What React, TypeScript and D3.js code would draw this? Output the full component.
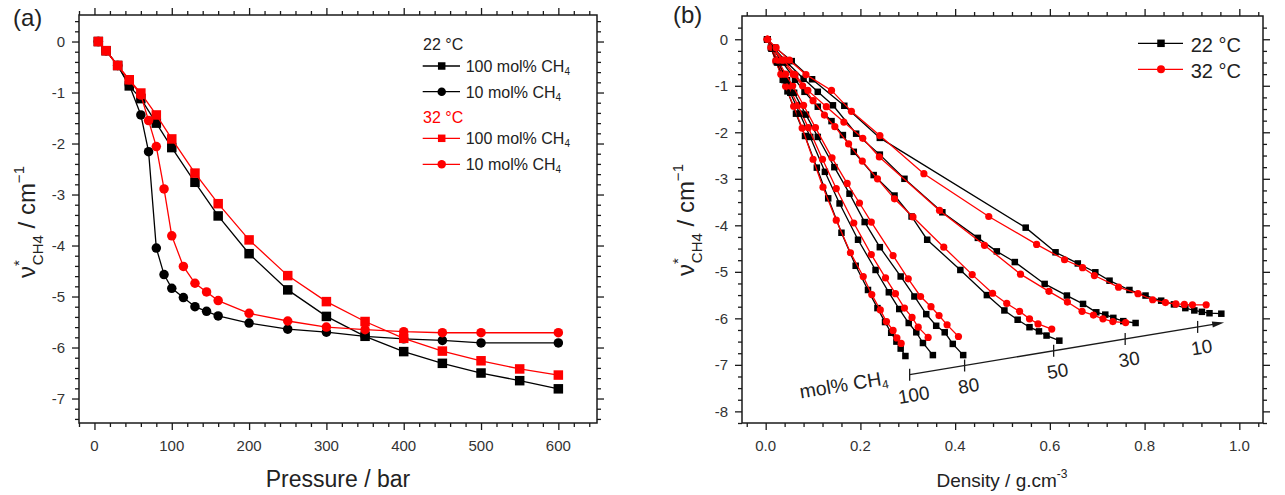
import React, { useEffect, useRef } from 'react';
import * as d3 from 'd3';

// ---------- panel (a): shift vs pressure ----------
const pressure100 = [5, 15, 30, 45, 60, 80, 100, 130, 160, 200, 250, 300, 350, 400, 450, 500, 550, 600];
const nu22_100 = [0, -0.18, -0.47, -0.87, -1.12, -1.6, -2.08, -2.76, -3.42, -4.16, -4.87, -5.39, -5.78, -6.08, -6.31, -6.5, -6.65, -6.81];
const nu32_100 = [0, -0.18, -0.47, -0.75, -1.01, -1.44, -1.91, -2.58, -3.18, -3.89, -4.59, -5.1, -5.49, -5.82, -6.07, -6.26, -6.42, -6.54];

const pressure10 = [5, 15, 30, 45, 60, 70, 80, 90, 100, 115, 130, 145, 160, 200, 250, 300, 350, 400, 450, 500, 600];
const nu22_10 = [0, -0.18, -0.47, -0.85, -1.44, -2.16, -4.05, -4.57, -4.84, -5.02, -5.2, -5.29, -5.38, -5.52, -5.64, -5.7, -5.78, -5.83, -5.86, -5.91, -5.91];
const nu32_10 = [0, -0.18, -0.47, -0.75, -1.05, -1.55, -2.06, -2.89, -3.81, -4.41, -4.74, -4.91, -5.08, -5.33, -5.48, -5.6, -5.65, -5.69, -5.71, -5.71, -5.71];

const pressureTicks = [0, 100, 200, 300, 400, 500, 600];
const nuTicksA = [0, -1, -2, -3, -4, -5, -6, -7];

// ---------- panel (b): shift vs density, [density, shift] ----------
const b22_100 = [[0.004, 0], [0.011, -0.18], [0.022, -0.47], [0.036, -0.87], [0.046, -1.12], [0.064, -1.6], [0.083, -2.08], [0.108, -2.76], [0.132, -3.42], [0.16, -4.16], [0.19, -4.87], [0.216, -5.39], [0.236, -5.78], [0.252, -6.08], [0.265, -6.31], [0.276, -6.5], [0.285, -6.65], [0.295, -6.81]];
const b32_100 = [[0.004, 0], [0.011, -0.18], [0.021, -0.47], [0.032, -0.75], [0.042, -1.01], [0.059, -1.44], [0.077, -1.91], [0.1, -2.58], [0.121, -3.18], [0.149, -3.89], [0.179, -4.59], [0.206, -5.1], [0.224, -5.49], [0.242, -5.82], [0.255, -6.07], [0.269, -6.26], [0.277, -6.42], [0.286, -6.54]];
const b22_90 = [[0.004, 0], [0.012, -0.2], [0.024, -0.5], [0.04, -0.88], [0.052, -1.15], [0.072, -1.6], [0.094, -2.1], [0.125, -2.85], [0.156, -3.53], [0.195, -4.31], [0.232, -4.96], [0.26, -5.44], [0.282, -5.8], [0.302, -6.1], [0.318, -6.3], [0.332, -6.53], [0.353, -6.79]];
const b32_90 = [[0.004, 0], [0.012, -0.18], [0.024, -0.45], [0.036, -0.75], [0.048, -1.0], [0.068, -1.42], [0.09, -1.9], [0.12, -2.58], [0.149, -3.21], [0.186, -3.95], [0.223, -4.63], [0.253, -5.13], [0.274, -5.47], [0.293, -5.78], [0.309, -5.98], [0.322, -6.19], [0.343, -6.41]];
const b22_80 = [[0.004, 0], [0.013, -0.2], [0.027, -0.5], [0.045, -0.88], [0.06, -1.15], [0.085, -1.62], [0.11, -2.1], [0.145, -2.75], [0.177, -3.32], [0.209, -3.93], [0.241, -4.47], [0.285, -5.1], [0.314, -5.53], [0.339, -5.91], [0.36, -6.16], [0.378, -6.3], [0.395, -6.55], [0.417, -6.79]];
const b32_80 = [[0.004, 0], [0.012, -0.18], [0.026, -0.45], [0.042, -0.75], [0.057, -1.0], [0.08, -1.42], [0.105, -1.9], [0.14, -2.55], [0.172, -3.1], [0.198, -3.52], [0.223, -3.93], [0.269, -4.65], [0.301, -5.15], [0.327, -5.53], [0.349, -5.75], [0.366, -5.94], [0.383, -6.14], [0.407, -6.39]];
const b22_50 = [[0.003, 0], [0.015, -0.2], [0.036, -0.5], [0.062, -0.87], [0.082, -1.13], [0.11, -1.45], [0.139, -1.76], [0.163, -2.06], [0.186, -2.42], [0.228, -2.92], [0.272, -3.36], [0.308, -3.81], [0.341, -4.31], [0.411, -4.96], [0.467, -5.5], [0.504, -5.83], [0.532, -6.03], [0.557, -6.19], [0.577, -6.28], [0.593, -6.37], [0.62, -6.48]];
const b32_50 = [[0.003, 0], [0.014, -0.18], [0.034, -0.45], [0.058, -0.75], [0.078, -1.0], [0.1, -1.32], [0.124, -1.63], [0.146, -1.88], [0.175, -2.25], [0.204, -2.62], [0.236, -3.0], [0.272, -3.43], [0.311, -3.82], [0.376, -4.47], [0.436, -5.06], [0.479, -5.46], [0.509, -5.68], [0.536, -5.85], [0.557, -6.01], [0.575, -6.12], [0.604, -6.23]];
const b22_30 = [[0.003, 0], [0.018, -0.2], [0.045, -0.5], [0.08, -0.85], [0.11, -1.13], [0.142, -1.42], [0.191, -2.03], [0.241, -2.48], [0.293, -3.0], [0.373, -3.72], [0.448, -4.27], [0.488, -4.56], [0.526, -4.79], [0.589, -5.26], [0.636, -5.51], [0.67, -5.69], [0.698, -5.87], [0.717, -5.92], [0.734, -5.99], [0.755, -6.06], [0.781, -6.1]];
const b32_30 = [[0.003, 0], [0.016, -0.18], [0.038, -0.45], [0.062, -0.76], [0.089, -1.1], [0.128, -1.45], [0.165, -1.78], [0.205, -2.13], [0.24, -2.53], [0.367, -3.68], [0.462, -4.43], [0.538, -5.05], [0.598, -5.42], [0.637, -5.65], [0.668, -5.85], [0.692, -5.93], [0.712, -6.01], [0.733, -6.07], [0.76, -6.09]];
const b22_10 = [[0.004, 0], [0.02, -0.18], [0.055, -0.47], [0.098, -0.86], [0.166, -1.43], [0.241, -2.12], [0.549, -4.05], [0.612, -4.58], [0.659, -4.82], [0.696, -5.01], [0.726, -5.19], [0.768, -5.39], [0.802, -5.51], [0.835, -5.62], [0.862, -5.7], [0.886, -5.78], [0.905, -5.83], [0.921, -5.86], [0.937, -5.89], [0.962, -5.9]];
const b32_10 = [[0.004, 0], [0.022, -0.18], [0.05, -0.45], [0.085, -0.76], [0.139, -1.1], [0.181, -1.55], [0.241, -2.07], [0.334, -2.89], [0.471, -3.81], [0.572, -4.41], [0.631, -4.74], [0.669, -4.91], [0.694, -5.08], [0.745, -5.33], [0.786, -5.47], [0.817, -5.6], [0.844, -5.66], [0.866, -5.69], [0.884, -5.7], [0.901, -5.71], [0.93, -5.71]];

const densityTicks = [0, 0.2, 0.4, 0.6, 0.8, 1.0];
const nuTicksB = [0, -1, -2, -3, -4, -5, -6, -7, -8];

// composition arrow annotation (mol% CH4)
const compLabels = ['100', '80', '50', '30', '10'];
const compTickDensity = [0.304, 0.42, 0.608, 0.759, 0.912];
const arrowStart = [0.304, -7.21];
const arrowEnd = [0.968, -6.09];

const FONT = '"Liberation Sans", Arial, sans-serif';
const RED = '#ff0000';
const BLACK = '#000000';
const AXIS = '#1a1a1a';
const LABEL = '#333333';

type Scale = d3.ScaleLinear<number, number>;

// frame with outward ticks on all four sides
const addFrame = (svg: any, x: Scale, y: Scale, xMajor: number[], xMinor: number[], yMajor: number[], yMinor: number[]) => {
  const [x0, x1] = x.range();
  const [y0, y1] = y.range();
  const sides = [
    { gen: d3.axisBottom, s: x, t: `translate(0,${y1})`, ma: xMajor, mi: xMinor },
    { gen: d3.axisTop, s: x, t: `translate(0,${y0})`, ma: xMajor, mi: xMinor },
    { gen: d3.axisLeft, s: y, t: `translate(${x0},0)`, ma: yMajor, mi: yMinor },
    { gen: d3.axisRight, s: y, t: `translate(${x1},0)`, ma: yMajor, mi: yMinor },
  ];
  sides.forEach(side => {
    [[side.ma, 7], [side.mi, 4]].forEach(([vals, size]: any) => {
      const g = svg.append('g')
        .attr('transform', side.t)
        .call(side.gen(side.s).tickValues(vals).tickSize(size).tickSizeOuter(0).tickFormat(() => ''));
      g.select('.domain').remove();
      g.selectAll('line').attr('stroke', AXIS).attr('stroke-width', 1.3);
      g.selectAll('text').remove();
    });
  });
  svg.append('rect')
    .attr('x', x0).attr('y', y0)
    .attr('width', x1 - x0).attr('height', y1 - y0)
    .attr('fill', 'none').attr('stroke', AXIS).attr('stroke-width', 1.5);
};

const addTickLabels = (svg: any, x: Scale, y: Scale, xTicks: number[], yTicks: number[], xFmt: (v: number) => string) => {
  const [x0] = x.range();
  svg.selectAll(null).data(xTicks).enter().append('text')
    .attr('x', (d: number) => x(d)).attr('y', 451)
    .attr('text-anchor', 'middle')
    .style('font-family', FONT).style('font-size', '15px').style('fill', LABEL)
    .text(xFmt);
  svg.selectAll(null).data(yTicks).enter().append('text')
    .attr('x', x0 - 14).attr('y', (d: number) => y(d))
    .attr('dy', '0.36em')
    .attr('text-anchor', 'end')
    .style('font-family', FONT).style('font-size', '15px').style('fill', LABEL)
    .text((d: number) => String(d));
};

const addYTitle = (svg: any, bx: number, cy: number) => {
  const t = svg.append('text')
    .attr('transform', `translate(${bx},${cy}) rotate(-90)`)
    .attr('text-anchor', 'middle')
    .style('font-family', FONT).style('font-size', '24px').style('fill', '#222');
  t.append('tspan').text('ν');
  t.append('tspan').attr('dy', -11).style('font-size', '15px').text('*');
  t.append('tspan').attr('dx', -5).attr('dy', 19).style('font-size', '15px').text('CH4');
  t.append('tspan').attr('dy', -8).text(' / cm');
  t.append('tspan').attr('dy', -11).style('font-size', '15px').text('−1');
};

const drawSeries = (svg: any, pts: number[][], x: Scale, y: Scale, color: string, shape: string, size: number) => {
  const line = d3.line<number[]>().x(d => x(d[0])).y(d => y(d[1]));
  svg.append('path')
    .datum(pts)
    .attr('d', line)
    .attr('fill', 'none')
    .attr('stroke', color)
    .attr('stroke-width', 1.3);
  if (shape === 'square') {
    svg.selectAll(null).data(pts).enter().append('rect')
      .attr('x', (d: number[]) => x(d[0]) - size / 2)
      .attr('y', (d: number[]) => y(d[1]) - size / 2)
      .attr('width', size).attr('height', size)
      .attr('fill', color);
  } else {
    svg.selectAll(null).data(pts).enter().append('circle')
      .attr('cx', (d: number[]) => x(d[0]))
      .attr('cy', (d: number[]) => y(d[1]))
      .attr('r', size / 2)
      .attr('fill', color);
  }
};

const legendMarker = (svg: any, cx: number, cy: number, x1: number, x2: number, color: string, shape: string, size: number) => {
  svg.append('line').attr('x1', x1).attr('x2', x2).attr('y1', cy).attr('y2', cy)
    .attr('stroke', color).attr('stroke-width', 1.3);
  if (shape === 'square') {
    svg.append('rect').attr('x', cx - size / 2).attr('y', cy - size / 2)
      .attr('width', size).attr('height', size).attr('fill', color);
  } else {
    svg.append('circle').attr('cx', cx).attr('cy', cy).attr('r', size / 2).attr('fill', color);
  }
};

const drawPanelA = (svg: any) => {
  const x = d3.scaleLinear().domain([-20, 650]).range([79, 597]);
  const y = d3.scaleLinear().domain([0.52, -7.48]).range([15, 423]);

  addFrame(svg, x, y, pressureTicks, d3.range(-20, 651, 20).filter(v => v % 100 !== 0),
    nuTicksA, d3.range(0.4, -7.41, -0.2).map(v => +v.toFixed(1)).filter(v => !Number.isInteger(v)));
  addTickLabels(svg, x, y, pressureTicks, nuTicksA, d => String(d));

  const zipA = (p: number[], v: number[]) => p.map((d, i) => [d, v[i]]);
  drawSeries(svg, zipA(pressure100, nu22_100), x, y, BLACK, 'square', 9.5);
  drawSeries(svg, zipA(pressure10, nu22_10), x, y, BLACK, 'circle', 9.5);
  drawSeries(svg, zipA(pressure100, nu32_100), x, y, RED, 'square', 9.5);
  drawSeries(svg, zipA(pressure10, nu32_10), x, y, RED, 'circle', 9.5);

  svg.append('text').attr('x', 13).attr('y', 26)
    .style('font-family', FONT).style('font-size', '24px').style('fill', '#222').text('(a)');
  svg.append('text').attr('x', 338).attr('y', 487).attr('text-anchor', 'middle')
    .style('font-family', FONT).style('font-size', '23px').style('fill', '#222').text('Pressure / bar');
  addYTitle(svg, 35, 222);

  // legend
  const rows = [
    { head: '22 °C', color: '#222', y: 50 },
    { text: '100 mol% CH', shape: 'square', color: BLACK, y: 66 },
    { text: '10 mol% CH', shape: 'circle', color: BLACK, y: 91.7 },
    { head: '32 °C', color: RED, y: 123 },
    { text: '100 mol% CH', shape: 'square', color: RED, y: 138.3 },
    { text: '10 mol% CH', shape: 'circle', color: RED, y: 164.3 },
  ];
  rows.forEach((r: any) => {
    if (r.head) {
      svg.append('text').attr('x', 423).attr('y', r.y)
        .style('font-family', FONT).style('font-size', '16px').style('fill', r.color).text(r.head);
    } else {
      legendMarker(svg, 441.7, r.y, 422.7, 460, r.color, r.shape, r.shape === 'square' ? 7.5 : 8.5);
      const t = svg.append('text').attr('x', 465.7).attr('y', r.y + 6)
        .style('font-family', FONT).style('font-size', '16px').style('fill', '#222');
      t.append('tspan').text(r.text);
      t.append('tspan').attr('dy', 3).style('font-size', '10px').text('4');
    }
  });
};

const drawPanelB = (svg: any) => {
  const x = d3.scaleLinear().domain([-0.05, 1.05]).range([742, 1263]);
  const y = d3.scaleLinear().domain([0.5, -8.25]).range([16, 423]);

  addFrame(svg, x, y, densityTicks,
    d3.range(-0.04, 1.05, 0.04).map(v => +v.toFixed(2)).filter(v => Math.abs(v * 5 - Math.round(v * 5)) > 1e-6),
    nuTicksB,
    d3.range(0.25, -8.26, -0.25).map(v => +v.toFixed(2)).filter(v => !Number.isInteger(v)));
  addTickLabels(svg, x, y, densityTicks, nuTicksB, d => d.toFixed(1));

  const pairs = [
    [b22_100, b32_100], [b22_90, b32_90], [b22_80, b32_80],
    [b22_50, b32_50], [b22_30, b32_30], [b22_10, b32_10],
  ];
  pairs.forEach(([black, red]) => {
    drawSeries(svg, black, x, y, BLACK, 'square', 6.5);
    drawSeries(svg, red, x, y, RED, 'circle', 7.2);
  });

  // composition arrow
  const sx = x(arrowStart[0]), sy = y(arrowStart[1]);
  const ex = x(arrowEnd[0]), ey = y(arrowEnd[1]);
  const ang = Math.atan2(ey - sy, ex - sx);
  const deg = (ang * 180) / Math.PI;
  svg.append('line').attr('x1', sx).attr('y1', sy).attr('x2', ex - 8 * Math.cos(ang)).attr('y2', ey - 8 * Math.sin(ang))
    .attr('stroke', AXIS).attr('stroke-width', 1.3);
  svg.append('path')
    .attr('transform', `translate(${ex},${ey}) rotate(${deg})`)
    .attr('d', 'M0,0 L-12,-3 L-12,3 Z')
    .attr('fill', AXIS);
  const lineY = (px: number) => sy + (px - sx) * Math.tan(ang);
  compTickDensity.forEach((d, i) => {
    const px = x(d), py = lineY(px);
    svg.append('line').attr('x1', px).attr('x2', px).attr('y1', py - 6).attr('y2', py + 6)
      .attr('stroke', AXIS).attr('stroke-width', 1.3);
    svg.append('text')
      .attr('transform', `translate(${px + 4},${py + 20}) rotate(${deg})`)
      .attr('text-anchor', 'middle').attr('dy', '0.36em')
      .style('font-family', FONT).style('font-size', '19px').style('fill', '#222')
      .text(compLabels[i]);
  });
  const mx = sx - 22, my = lineY(mx);
  const mt = svg.append('text')
    .attr('transform', `translate(${mx},${my}) rotate(${deg})`)
    .attr('text-anchor', 'end').attr('dy', '0.3em')
    .style('font-family', FONT).style('font-size', '19.5px').style('fill', '#222');
  mt.append('tspan').text('mol% CH');
  mt.append('tspan').attr('dy', 4).style('font-size', '12px').text('4');

  svg.append('text').attr('x', 673).attr('y', 23)
    .style('font-family', FONT).style('font-size', '24px').style('fill', '#222').text('(b)');
  const xt = svg.append('text').attr('x', 1002).attr('y', 487).attr('text-anchor', 'middle')
    .style('font-family', FONT).style('font-size', '19px').style('fill', '#222');
  xt.append('tspan').text('Density / g.cm');
  xt.append('tspan').attr('dy', -9).style('font-size', '12px').text('-3');
  addYTitle(svg, 694, 220);

  // legend
  legendMarker(svg, 1161, 43.3, 1138, 1183, BLACK, 'square', 7.5);
  legendMarker(svg, 1161, 69.3, 1138, 1183, RED, 'circle', 8);
  svg.append('text').attr('x', 1190.7).attr('y', 51.5)
    .style('font-family', FONT).style('font-size', '20px').style('fill', '#222').text('22 °C');
  svg.append('text').attr('x', 1190.7).attr('y', 77.5)
    .style('font-family', FONT).style('font-size', '20px').style('fill', '#222').text('32 °C');
};

const App = () => {
  const svgRef = useRef<SVGSVGElement | null>(null);

  useEffect(() => {
    if (!svgRef.current) return;
    const svg = d3.select(svgRef.current);
    svg.selectAll('*').remove();
    drawPanelA(svg);
    drawPanelB(svg);
  }, []);

  return (
    <svg
      ref={svgRef}
      width={1285}
      height={495}
      style={{ position: 'absolute', left: 0, top: 0, background: '#fff' }}
    />
  );
};

export default App;
